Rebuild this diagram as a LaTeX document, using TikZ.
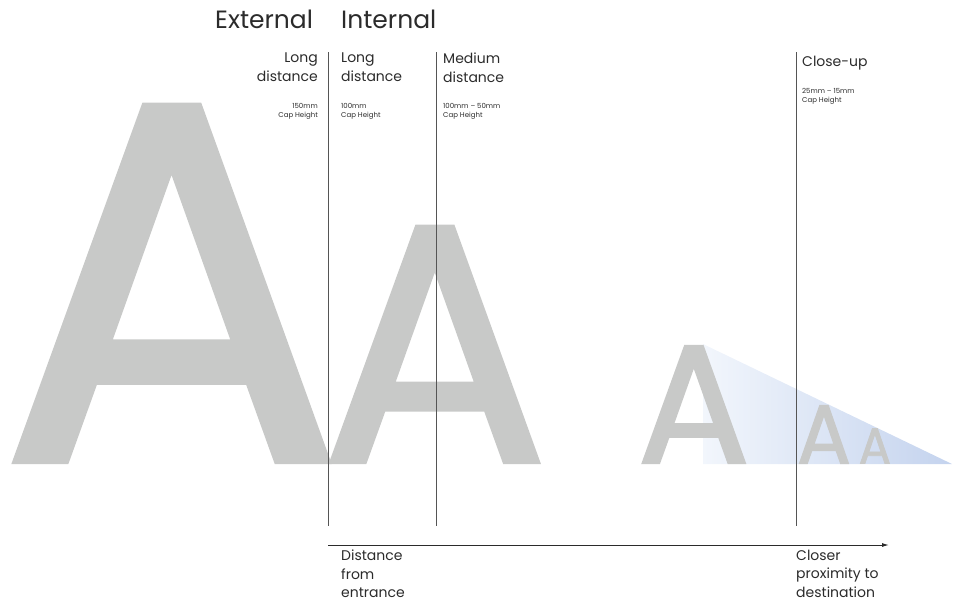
\documentclass[tikz,border=0pt]{standalone}
\usepackage{fontspec}
\setmainfont{Poppins}
\newfontfamily\specfont[FakeBold=1.5]{Poppins}
\usetikzlibrary{arrows.meta}
\definecolor{glyph}{HTML}{C8C9C8}
\definecolor{rulec}{HTML}{555555}
\definecolor{ink}{HTML}{2B2B2B}
\definecolor{triL}{HTML}{F2F6FC}
\definecolor{triR}{HTML}{C4D3EE}
\newcommand{\specA}[2]{\resizebox{#1pt}{#2pt}{\specfont A}}
\begin{document}
\begin{tikzpicture}[x=1pt,y=-1pt,
  glyphA/.style={inner sep=0pt, outer sep=0pt, text=glyph, anchor=south west},
  head/.style={inner sep=0pt, text=ink, font=\fontsize{25}{29}\selectfont, anchor=base west},
  lbl/.style={inner sep=0pt, text=ink, font=\fontsize{14}{18.3}\selectfont},
  small/.style={inner sep=0pt, text=ink, font=\fontsize{7}{9}\selectfont},
  divider/.style={draw=rulec, line width=0.9pt},
  axis/.style={draw=ink, line width=1pt, -{Latex[length=7pt,width=4pt]}}
]
\useasboundingbox (0,0) rectangle (960,606);
% gradient wedge
\shade[left color=triL, right color=triR] (703,344) -- (703,464) -- (952,464) -- cycle;
% glyph specimens
\node[glyphA] (a1) at (0,460.2) {\specA{342}{352.5}};
\node[glyphA] (a2) at (321,461.5) {\specA{227.3}{234}};
\node[glyphA] (a3) at (637.5,462.75) {\specA{112.5}{116.5}};
\node[glyphA] (a4) at (796.9,463.4) {\specA{54.1}{57.8}};
\node[glyphA] (a5) at (858.7,463.6) {\specA{32.4}{35.2}};
% dividers
\coordinate (d1t) at (328,52); \coordinate (d1b) at (328,526);
\coordinate (d2t) at (436,52); \coordinate (d2b) at (436,526);
\coordinate (d3t) at (796,52); \coordinate (d3b) at (796,526);
\draw[divider] (d1t) -- (d1b);
\draw[divider] (d2t) -- (d2b);
\draw[divider] (d3t) -- (d3b);
% headings
\node[head] (ext) at (215,28) {External};
\node[head] (int) at (341,28) {Internal};
% zone labels
\node[lbl, anchor=north east, align=right] (z1) at (318,53) {Long\\distance};
\node[lbl, anchor=north west, align=left] (z2) at (341,53) {Long\\distance};
\node[lbl, anchor=north west, align=left] (z3) at (443,53) {Medium\\distance};
\node[lbl, anchor=north west, align=left] (z4) at (802,56) {Close-up};
% cap heights
\node[small, anchor=north east, align=right] (c1) at (318,103) {150mm\\Cap Height};
\node[small, anchor=north west, align=left] (c2) at (341,103) {100mm\\Cap Height};
\node[small, anchor=north west, align=left] (c3) at (443,103) {100mm – 50mm\\Cap Height};
\node[small, anchor=north west, align=left] (c4) at (802,88) {25mm – 15mm\\Cap Height};
% axis
\coordinate (ax0) at (328,545); \coordinate (ax1) at (889,545);
\draw[axis] (ax0) -- (ax1);
\node[lbl, anchor=north west, align=left] (b1) at (341,550) {Distance\\from\\entrance};
\node[lbl, anchor=north west, align=left] (b2) at (796,550) {Closer\\proximity to\\destination};
\end{tikzpicture}
\end{document}
